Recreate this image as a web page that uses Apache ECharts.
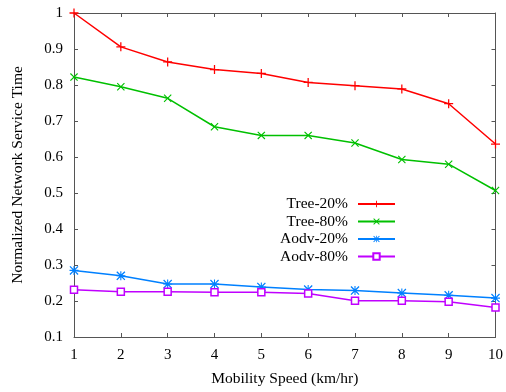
<!DOCTYPE html>
<html>
<head>
<meta charset="utf-8">
<script src="https://cdn.jsdelivr.net/npm/echarts@6/dist/echarts.min.js"></script>
<style>
  html, body { margin: 0; padding: 0; background: #fff; }
  #chart { width: 506px; height: 392px; }
</style>
</head>
<body>
<div id="chart"></div>
<script>
    // data
    var speeds = [1, 2, 3, 4, 5, 6, 7, 8, 9, 10];
    var tree20 = [1.0, 0.906, 0.864, 0.843, 0.832, 0.807, 0.798, 0.789, 0.748, 0.636];
    var tree80 = [0.822, 0.795, 0.763, 0.684, 0.660, 0.660, 0.639, 0.593, 0.580, 0.507];
    var aodv20 = [0.285, 0.270, 0.247, 0.247, 0.239, 0.232, 0.229, 0.222, 0.216, 0.208];
    var aodv80 = [0.231, 0.226, 0.226, 0.224, 0.224, 0.221, 0.201, 0.201, 0.198, 0.182];
    var seriesNames = ['Tree-20%', 'Tree-80%', 'Aodv-20%', 'Aodv-80%'];

    var font = 'Liberation Serif';
    var frame = '#555';

    var plusPath = 'path://M4.3,0H5.7V4.3H10V5.7H5.7V10H4.3V5.7H0V4.3H4.3Z';
    var crossPath = 'path://M0,1L1,0L5,4L9,0L10,1L6,5L10,9L9,10L5,6L1,10L0,9L4,5Z';
    var starPath = 'path://M0,1L1,0L4.4,3.4V0H5.6V3.4L9,0L10,1L6.6,4.4H10V5.6H6.6L10,9L9,10L5.6,6.6V10H4.4V6.6L1,10L0,9L3.4,5.6H0V4.4H3.4Z';

    function pairs(arr){
        return speeds.map(function(s, i){ return [s, arr[i]]; });
    }

    function line_series(name, data, color, symbol, size, hollow){
        return {
            name: name,
            type: 'line',
            data: pairs(data),
            symbol: symbol,
            symbolSize: size,
            showAllSymbol: true,
            lineStyle: { color: color, width: 1.5 },
            itemStyle: hollow
                ? { color: '#fff', borderColor: color, borderWidth: 1.5 }
                : { color: color, borderWidth: 0 },
            emphasis: { disabled: true }
        };
    }

    var axisCommon = {
        axisLine: { show: true, lineStyle: { color: frame, width: 1 } },
        axisTick: { show: true, inside: true, length: 4, lineStyle: { color: frame } },
        splitLine: { show: false }
    };

    var chart = echarts.init(document.getElementById('chart'));
    chart.setOption({
        animation: false,
        grid: { left: 74, right: 8, top: 13, bottom: 55, containLabel: false },
        legend: {
            orient: 'vertical',
            right: 110,
            top: 196,
            padding: 0,
            align: 'right',
            itemWidth: 37,
            itemHeight: 8,
            itemGap: 1.5,
            textStyle: { fontFamily: font, fontSize: 15.5, color: '#000', padding: [0, 5, 0, 0] },
            data: seriesNames
        },
        xAxis: [
            Object.assign({
                type: 'value', min: 1, max: 10, interval: 1,
                name: 'Mobility Speed (km/hr)', nameLocation: 'middle', nameGap: 34,
                nameTextStyle: { fontFamily: font, fontSize: 15.5, color: '#000' },
                axisLabel: { fontFamily: font, fontSize: 15, color: '#000', margin: 11 }
            }, axisCommon),
            Object.assign({
                type: 'value', min: 1, max: 10, interval: 1, position: 'top',
                axisLabel: { show: false }
            }, axisCommon)
        ],
        yAxis: [
            Object.assign({
                type: 'value', min: 0.1, max: 1, interval: 0.1,
                name: 'Normalized Network Service Time', nameLocation: 'middle', nameGap: 48,
                nameTextStyle: { fontFamily: font, fontSize: 15.5, color: '#000' },
                axisLabel: {
                    fontFamily: font, fontSize: 15, color: '#000', margin: 11,
                    formatter: function(v){ return Math.abs(v - 1) < 1e-9 ? '1' : v.toFixed(1); }
                }
            }, axisCommon),
            Object.assign({
                type: 'value', min: 0.1, max: 1, interval: 0.1, position: 'right',
                axisLabel: { show: false }
            }, axisCommon)
        ],
        series: [
            line_series(seriesNames[0], tree20, '#ff0000', plusPath, 9, false),
            line_series(seriesNames[1], tree80, '#00c000', crossPath, 8, false),
            line_series(seriesNames[2], aodv20, '#0080ff', starPath, 9, false),
            line_series(seriesNames[3], aodv80, '#c000ff', 'rect', 7, true)
        ]
    });
</script>
</body>
</html>
